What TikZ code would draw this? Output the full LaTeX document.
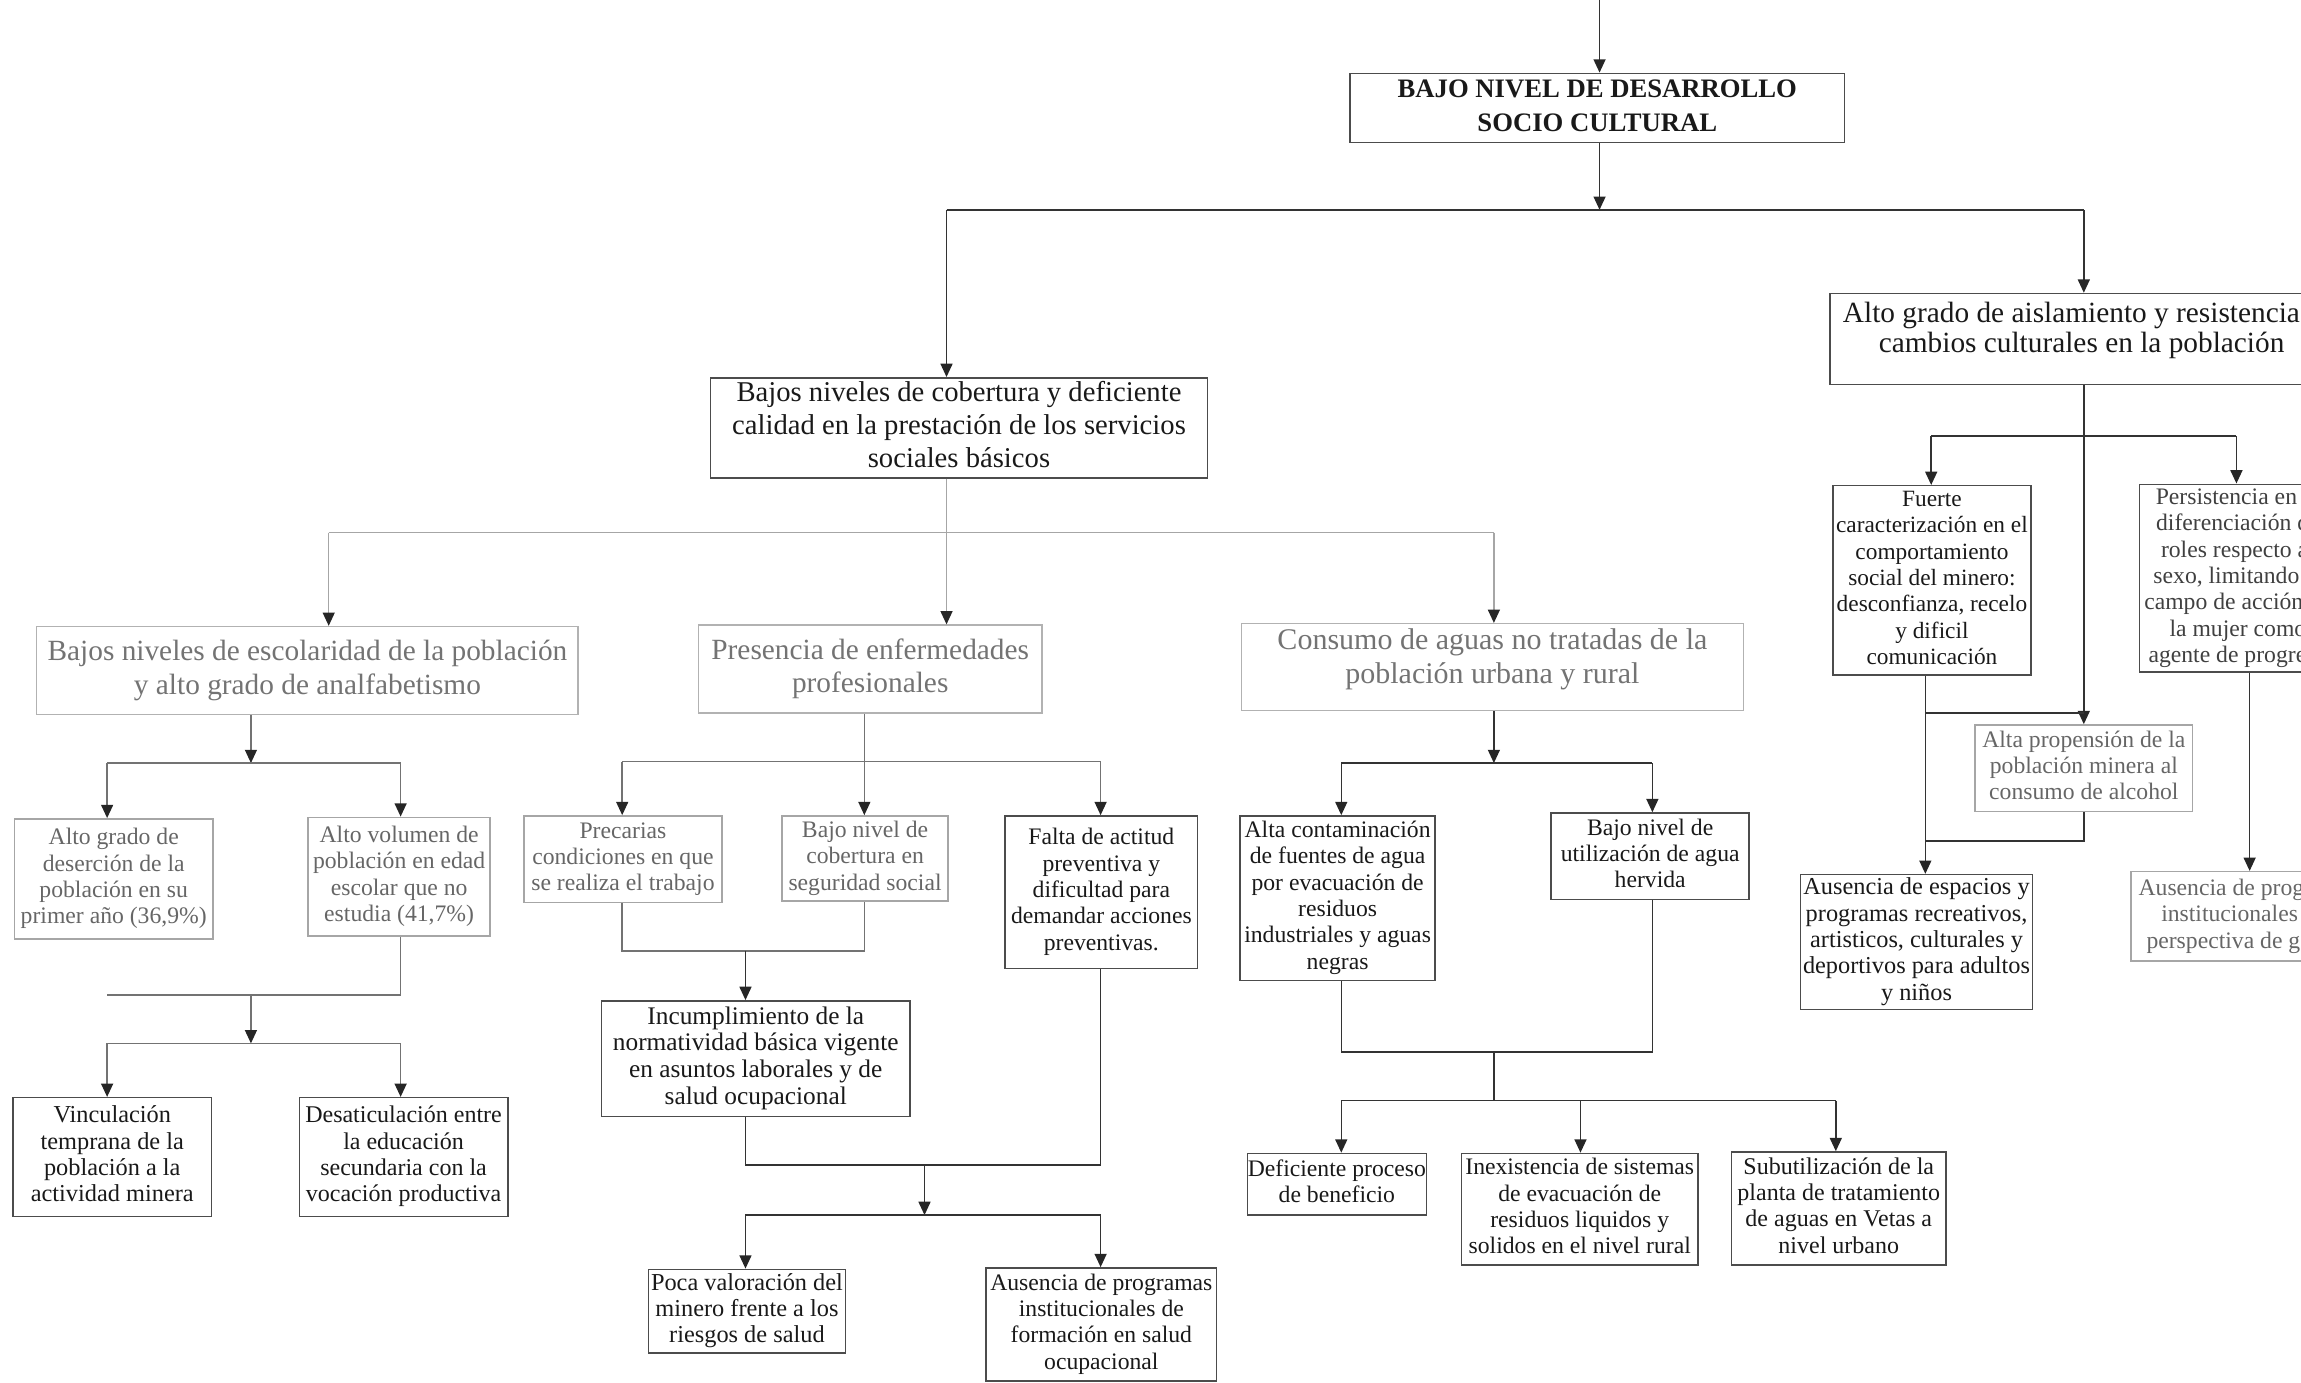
\documentclass[tikz,border=0pt]{standalone}
\usepackage{fontspec}
\setmainfont{Liberation Serif}
\usetikzlibrary{arrows.meta}
% centred stack of lines, one per \\
\newcommand\stack[1]{\begin{tabular}{@{}c@{}}#1\end{tabular}}
% same stack, taking no room of its own (sits a little higher in its box)
\newcommand\highstack[1]{\raisebox{0pt}[0pt][0pt]{\stack{#1}}}

\begin{document}
\begin{tikzpicture}[x=0.44025pt,y=-0.44025pt,
  line width=0.45pt,
  wire/.style={draw=black!80},
  grey/.style={draw=black!55},
  pale/.style={draw=black!35},
  arr/.style={-{Triangle[length=4pt,width=3.6pt,color=black!85]}},
  % box given by its left, top, right and bottom edges
  place/.style n args={4}{at={({(#1+#3)/2},{(#2+#4)/2})},
    minimum width={(#3-#1)*0.44025pt}, minimum height={(#4-#2)*0.44025pt}},
  boxbase/.style={draw=black!70, inner sep=0pt, text=black!90},
  bigbold/.style={boxbase, font=\fontsize{8}{10.2}\selectfont\bfseries},
  mid/.style={boxbase, font=\fontsize{8.6}{10}\selectfont},
  midwide/.style={boxbase, font=\fontsize{8.8}{9}\selectfont},
  midpale/.style={boxbase, draw=black!30, text=black!55, font=\fontsize{8.8}{10.1}\selectfont},
  small/.style={boxbase, font=\fontsize{7.1}{7.9}\selectfont},
  smallpale/.style={small, draw=black!35, text=black!60},
]
\useasboundingbox (0,0) rectangle (1568,942);

% ---- boxes ----
\node[bigbold, place={920}{50}{1257}{97}] (A) {\stack{BAJO NIVEL DE DESARROLLO\\SOCIO CULTURAL}};
\node[mid, place={484}{258}{823}{325}] (B) {\stack{Bajos niveles de cobertura y deficiente\\calidad en la prestación de los servicios\\sociales básicos}};
\node[midwide, place={1247}{200}{1590}{262}] (C) {\highstack{Alto grado de aislamiento y resistencia a\\cambios culturales en la población}};

\node[midpale, place={25}{427}{394}{487}] (D) {\stack{Bajos niveles de escolaridad de la población\\y alto grado de analfabetismo}};
\node[midpale, place={476}{426}{710}{486}] (E) {\stack{Presencia de enfermedades\\profesionales}};
\node[midpale, place={846}{425}{1188}{484}, font=\fontsize{9}{10.1}\selectfont] (F) {\highstack{Consumo de aguas no tratadas de la\\población urbana y rural}};

\node[small, place={1249}{331}{1384}{460}, font=\fontsize{7}{7.9}\selectfont] (G) {\stack{Fuerte\\caracterización en el\\comportamiento\\social del minero:\\desconfianza, recelo\\y dificil\\comunicación}};
\node[smallpale, place={1346}{494}{1494}{553}] (H) {\stack{Alta propensión de la\\población minera al\\consumo de alcohol}};
\node[small, place={1458}{330}{1592}{458}, text=black!75] (I) {\stack{Persistencia en la\\diferenciación de\\roles respecto al\\sexo, limitando el\\campo de acción de\\la mujer como\\agente de progreso}};
\node[small, place={1227}{596}{1385}{688}, font=\fontsize{7.3}{7.9}\selectfont] (J) {\stack{Ausencia de espacios y\\programas recreativos,\\artisticos, culturales y\\deportivos para adultos\\y niños}};
\node[smallpale, place={1452}{594}{1614}{655}] (Z) {\stack{Ausencia de programas\\institucionales con\\perspectiva de género}};

\node[smallpale, place={10}{558}{145}{640}] (K) {\stack{Alto grado de\\deserción de la\\población en su\\primer año (36,9\%)}};
\node[smallpale, place={210}{557}{334}{638}] (L) {\stack{Alto volumen de\\población en edad\\escolar que no\\estudia (41,7\%)}};
\node[small, place={9}{748}{144}{829}, font=\fontsize{7.3}{7.9}\selectfont] (M) {\stack{Vinculación\\temprana de la\\población a la\\actividad minera}};
\node[small, place={204}{748}{346}{829}, font=\fontsize{7.2}{7.9}\selectfont] (N) {\stack{Desaticulación entre\\la educación\\secundaria con la\\vocación productiva}};

\node[smallpale, place={357}{556}{492}{615}] (O) {\stack{Precarias\\condiciones en que\\se realiza el trabajo}};
\node[smallpale, place={533}{556}{646}{614}] (P) {\stack{Bajo nivel de\\cobertura en\\seguridad social}};
\node[small, place={685}{556}{816}{660}] (Q) {\stack{Falta de actitud\\preventiva y\\dificultad para\\demandar acciones\\preventivas.}};
\node[small, place={410}{682}{620}{761}, font=\fontsize{7.6}{8}\selectfont] (R) {\stack{Incumplimiento de la\\normatividad básica vigente\\en asuntos laborales y de\\salud ocupacional}};
\node[small, place={442}{865}{576}{922}, font=\fontsize{7.3}{7.9}\selectfont] (S) {\stack{Poca valoración del\\minero frente a los\\riesgos de salud}};
\node[small, place={672}{864}{829}{941}] (T) {\stack{Ausencia de programas\\institucionales de\\formación en salud\\ocupacional}};

\node[small, place={845}{556}{978}{668}] (U) {\stack{Alta contaminación\\de fuentes de agua\\por evacuación de\\residuos\\industriales y aguas\\negras}};
\node[small, place={1057}{554}{1192}{613}] (V) {\stack{Bajo nivel de\\utilización de agua\\hervida}};
\node[small, place={850}{786}{972}{828}] (W) {\stack{Deficiente proceso\\de beneficio}};
\node[small, place={996}{786}{1157}{862}] (X) {\stack{Inexistencia de sistemas\\de evacuación de\\residuos liquidos y\\solidos en el nivel rural}};
\node[small, place={1180}{785}{1326}{862}, font=\fontsize{7.2}{7.9}\selectfont] (Y) {\stack{Subutilización de la\\planta de tratamiento\\de aguas en Vetas a\\nivel urbano}};

% ---- junction points ----
\coordinate (topin) at (1090,0);
\coordinate (j1) at (1090,143);   \coordinate (j1l) at (645,143);  \coordinate (j1r) at (1420,143);
\coordinate (j2) at (645,363);    \coordinate (j2l) at (224,363);  \coordinate (j2r) at (1018,363);
\coordinate (j3) at (171,520);    \coordinate (j3l) at (73,520);   \coordinate (j3r) at (273,520);
\coordinate (j4) at (273,678);    \coordinate (j4l) at (73,678);   \coordinate (j4m) at (171,678);
\coordinate (j5) at (171,711);    \coordinate (j5l) at (73,711);   \coordinate (j5r) at (273,711);
\coordinate (j6) at (589,519);    \coordinate (j6l) at (424,519);  \coordinate (j6r) at (750,519);
\coordinate (j7l) at (424,648);   \coordinate (j7r) at (589,648);  \coordinate (j7m) at (508,648);
\coordinate (j8l) at (508,794);   \coordinate (j8r) at (750,794);  \coordinate (j8m) at (630,794);
\coordinate (j9) at (630,828);    \coordinate (j9l) at (508,828);  \coordinate (j9r) at (750,828);
\coordinate (j10) at (1018,520);  \coordinate (j10l) at (914,520); \coordinate (j10r) at (1126,520);
\coordinate (j11l) at (914,717);  \coordinate (j11r) at (1126,717);\coordinate (j11m) at (1018,717);
\coordinate (j12) at (1018,750);  \coordinate (j12l) at (914,750); \coordinate (j12r) at (1251,750);
\coordinate (j12x) at (1077,750);
\coordinate (j13l) at (1316,297); \coordinate (j13r) at (1524,297);
\coordinate (j14) at (1312,486);  \coordinate (j14r) at (1420,486);
\coordinate (j15) at (1420,573);  \coordinate (j15l) at (1312,573);
\coordinate (j16) at (1533,458);

% ---- top level ----
\draw[wire,arr] (topin) -- (topin |- A.north);
\draw[wire,arr] (j1 |- A.south) -- (j1);
\draw[wire] (j1l) -- (j1r);
\draw[wire,arr] (j1l) -- (j1l |- B.north);
\draw[wire,arr] (j1r) -- (j1r |- C.north);

% ---- basic social services branch ----
\draw[pale] (j2 |- B.south) -- (j2);
\draw[pale] (j2l) -- (j2r);
\draw[pale,arr] (j2) -- (j2 |- E.north);
\draw[pale,arr] (j2l) -- (j2l |- D.north);
\draw[pale,arr] (j2r) -- (j2r |- F.north);

% schooling
\draw[grey,arr] (j3 |- D.south) -- (j3);
\draw[grey] (j3l) -- (j3r);
\draw[grey,arr] (j3l) -- (j3l |- K.north);
\draw[grey,arr] (j3r) -- (j3r |- L.north);
\draw[grey] (L.south -| j4) -- (j4) -- (j4l);
\draw[grey,arr] (j4m) -- (j5);
\draw[grey] (j5l) -- (j5r);
\draw[grey,arr] (j5l) -- (j5l |- M.north);
\draw[grey,arr] (j5r) -- (j5r |- N.north);

% occupational diseases
\draw[grey] (j6 |- E.south) -- (j6);
\draw[grey] (j6l) -- (j6r);
\draw[grey,arr] (j6l) -- (j6l |- O.north);
\draw[grey,arr] (j6) -- (j6 |- P.north);
\draw[grey,arr] (j6r) -- (j6r |- Q.north);
\draw[grey] (O.south -| j7l) -- (j7l) -- (j7r) -- (P.south -| j7r);
\draw[wire,arr] (j7m) -- (j7m |- R.north);
\draw[wire] (R.south -| j8l) -- (j8l) -- (j8r) -- (Q.south -| j8r);
\draw[wire,arr] (j8m) -- (j9);
\draw[wire] (j9l) -- (j9r);
\draw[wire,arr] (j9l) -- (j9l |- S.north);
\draw[wire,arr] (j9r) -- (j9r |- T.north);

% untreated water
\draw[wire,arr] (j10 |- F.south) -- (j10);
\draw[wire] (j10l) -- (j10r);
\draw[wire,arr] (j10l) -- (j10l |- U.north);
\draw[wire,arr] (j10r) -- (j10r |- V.north);
\draw[wire] (U.south -| j11l) -- (j11l) -- (j11r) -- (V.south -| j11r);
\draw[wire] (j11m) -- (j12);
\draw[wire] (j12l) -- (j12r);
\draw[wire,arr] (j12l) -- (j12l |- W.north);
\draw[wire,arr] (j12x) -- (j12x |- X.north);
\draw[wire,arr] (j12r) -- (j12r |- Y.north);

% ---- cultural isolation branch ----
\draw[wire,arr] (C.south -| H.north) -- (H.north);
\draw[wire] (j13l) -- (j13r);
\draw[wire,arr] (j13l) -- (j13l |- G.north);
\draw[wire,arr] (j13r) -- (j13r |- I.north);
\draw[wire,arr] (G.south -| j14) -- (j14 |- J.north);
\draw[wire] (j14) -- (j14r);
\draw[wire] (H.south) -- (j15) -- (j15l);
\draw[wire,arr] (I.south -| j16) -- (j16 |- Z.north);
\end{tikzpicture}
\end{document}
